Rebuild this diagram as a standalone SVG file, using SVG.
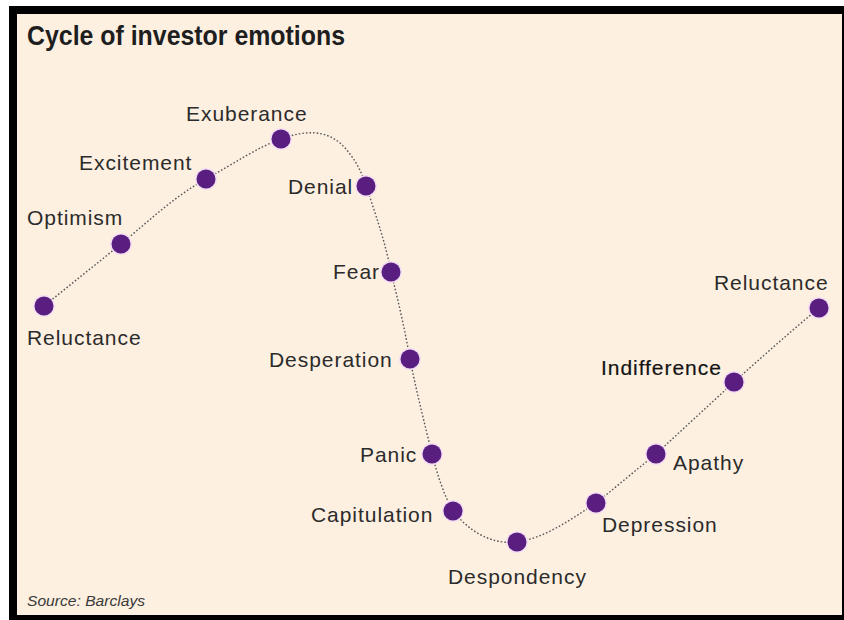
<svg xmlns="http://www.w3.org/2000/svg" width="844" height="620" viewBox="0 0 844 620">
<style>
.lbl{font-family:"Liberation Sans",Arial,sans-serif;font-size:21px;letter-spacing:0.95px;fill:#2b2b2b}
.halo{fill:#f4def2}
.dot{fill:#5a1e80}
.curve{fill:none;stroke:#555;stroke-width:1.4;stroke-dasharray:1.6 2}
</style>
<rect x="0" y="0" width="844" height="620" fill="#ffffff"/>
<rect x="9" y="6" width="835" height="614" fill="#000"/>
<rect x="17" y="14" width="825" height="601" fill="#fdf0e1"/>
<text x="27" y="45" font-family="'Liberation Sans',Arial,sans-serif" font-weight="bold" font-size="27" fill="#1e1e1e" textLength="318" lengthAdjust="spacingAndGlyphs">Cycle of investor emotions</text>
<g id="connectors">
<path class="curve" d="M44,306 C70,285 95,265 121,244 C150,220 175,196 206,179 C235,163 258,147 281,139 C300,132 322,128 340,143 C354,156 362,172 366,186 C376,215 386,245 391,272 C398,300 405,330 410,359 C416,390 425,425 432,454 C438,477 444,495 453,511 C468,530 490,545 517,542 C545,538 570,520 596,503 C616,487 636,470 656,454 C682,430 708,406 734,382 C762,357 790,332 819,308"/>
</g>
<g id="n-reluctance1"><circle class="halo" cx="44" cy="306" r="11"/><circle class="dot" cx="44" cy="306" r="9.5"/><text class="lbl" x="27" y="345">Reluctance</text></g>
<g id="n-optimism"><circle class="halo" cx="121" cy="244" r="11"/><circle class="dot" cx="121" cy="244" r="9.5"/><text class="lbl" x="27" y="225">Optimism</text></g>
<g id="n-excitement"><circle class="halo" cx="206" cy="179" r="11"/><circle class="dot" cx="206" cy="179" r="9.5"/><text class="lbl" x="79" y="170">Excitement</text></g>
<g id="n-exuberance"><circle class="halo" cx="281" cy="139" r="11"/><circle class="dot" cx="281" cy="139" r="9.5"/><text class="lbl" x="186" y="121">Exuberance</text></g>
<g id="n-denial"><circle class="halo" cx="366" cy="186" r="11"/><circle class="dot" cx="366" cy="186" r="9.5"/><text class="lbl" x="288" y="194">Denial</text></g>
<g id="n-fear"><circle class="halo" cx="391" cy="272" r="11"/><circle class="dot" cx="391" cy="272" r="9.5"/><text class="lbl" x="333" y="279">Fear</text></g>
<g id="n-desperation"><circle class="halo" cx="410" cy="359" r="11"/><circle class="dot" cx="410" cy="359" r="9.5"/><text class="lbl" x="269" y="367">Desperation</text></g>
<g id="n-panic"><circle class="halo" cx="432" cy="454" r="11"/><circle class="dot" cx="432" cy="454" r="9.5"/><text class="lbl" x="360" y="462">Panic</text></g>
<g id="n-capitulation"><circle class="halo" cx="453" cy="511" r="11"/><circle class="dot" cx="453" cy="511" r="9.5"/><text class="lbl" x="311" y="522">Capitulation</text></g>
<g id="n-despondency"><circle class="halo" cx="517" cy="542" r="11"/><circle class="dot" cx="517" cy="542" r="9.5"/><text class="lbl" x="448" y="584">Despondency</text></g>
<g id="n-depression"><circle class="halo" cx="596" cy="503" r="11"/><circle class="dot" cx="596" cy="503" r="9.5"/><text class="lbl" x="602" y="532">Depression</text></g>
<g id="n-apathy"><circle class="halo" cx="656" cy="454" r="11"/><circle class="dot" cx="656" cy="454" r="9.5"/><text class="lbl" x="673" y="470">Apathy</text></g>
<g id="n-indifference"><circle class="halo" cx="734" cy="382" r="11"/><circle class="dot" cx="734" cy="382" r="9.5"/><text class="lbl" x="601" y="375" style="fill:#141414;stroke:#141414;stroke-width:0.2">Indifference</text></g>
<g id="n-reluctance2"><circle class="halo" cx="819" cy="308" r="11"/><circle class="dot" cx="819" cy="308" r="9.5"/><text class="lbl" x="714" y="290">Reluctance</text></g>
<text x="27" y="606" font-family="'Liberation Sans',Arial,sans-serif" font-style="italic" font-size="15" fill="#3a3a3a" textLength="118" lengthAdjust="spacingAndGlyphs">Source: Barclays</text>
</svg>
